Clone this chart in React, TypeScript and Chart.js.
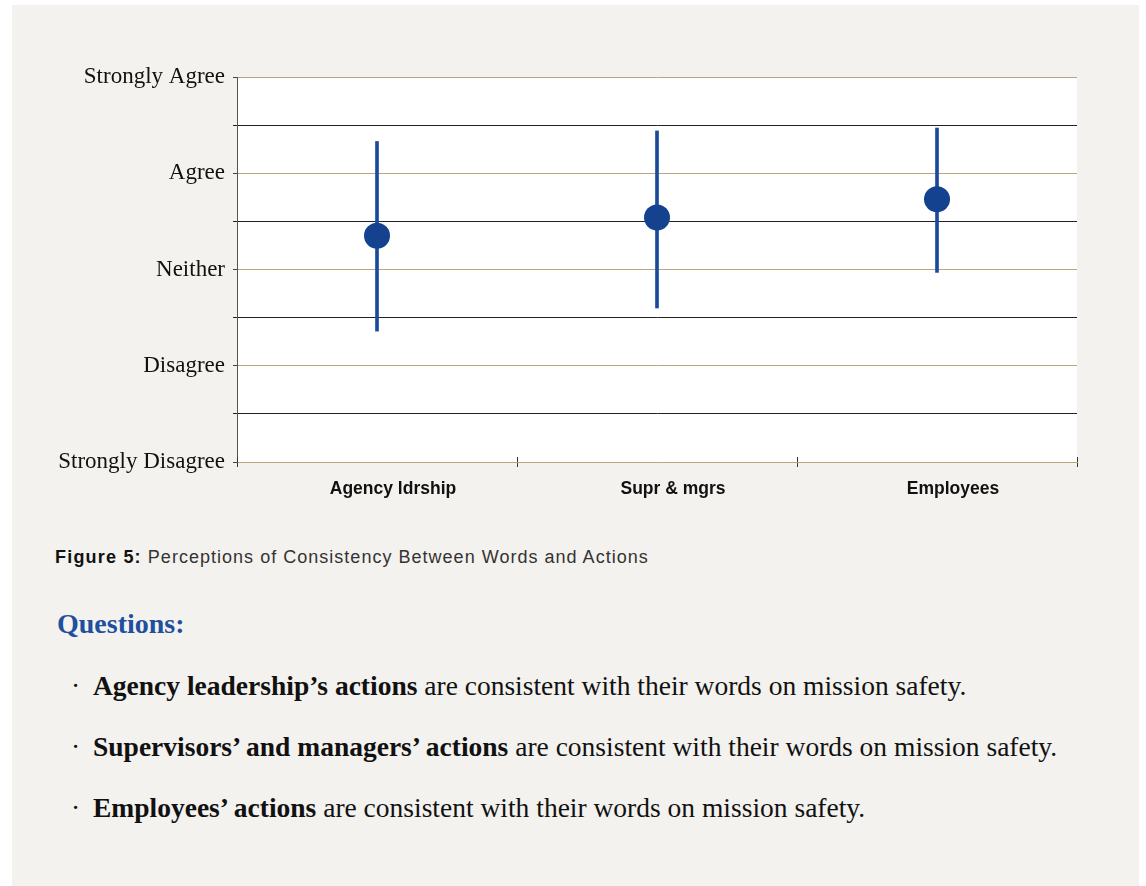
import React, { useEffect, useRef } from "react";
import { Chart, registerables } from "chart.js";

Chart.register(...registerables);

const categories = ["Agency ldrship", "Supr & mgrs", "Employees"];
const meanValues = [3.35, 3.54, 3.73];
const lowValues = [2.36, 2.6, 2.97];
const highValues = [4.33, 4.44, 4.47];
const scaleLabels: Record<number, string> = {
  1: "Strongly Disagree",
  2: "Disagree",
  3: "Neither",
  4: "Agree",
  5: "Strongly Agree",
};
const questions = [
  { bold: "Agency leadership’s actions", rest: " are consistent with their words on mission safety." },
  { bold: "Supervisors’ and managers’ actions", rest: " are consistent with their words on mission safety." },
  { bold: "Employees’ actions", rest: " are consistent with their words on mission safety." },
];

const BLUE = "#14428f";
const TAN = "#bda47c";

const whiteArea = {
  id: "whiteArea",
  beforeDraw(chart: any) {
    const { ctx, chartArea } = chart;
    ctx.save();
    ctx.fillStyle = "#ffffff";
    ctx.fillRect(chartArea.left, chartArea.top, chartArea.right - chartArea.left, chartArea.bottom - chartArea.top);
    ctx.restore();
  },
  afterDraw(chart: any) {
    const { ctx, chartArea } = chart;
    const xs = chart.scales.x;
    const n = categories.length;
    ctx.save();
    ctx.strokeStyle = "#333";
    ctx.lineWidth = 1;
    for (let i = 0; i <= n; i++) {
      let x: number;
      if (i === 0) x = chartArea.left;
      else if (i === n) x = chartArea.right;
      else x = (xs.getPixelForValue(i - 1) + xs.getPixelForValue(i)) / 2;
      x = Math.round(x) + 0.5;
      ctx.beginPath();
      ctx.moveTo(x, chartArea.bottom - 5);
      ctx.lineTo(x, chartArea.bottom);
      ctx.stroke();
    }
    ctx.restore();
  },
};

function ChartBox() {
  const ref = useRef<HTMLCanvasElement | null>(null);
  useEffect(() => {
    if (!ref.current) return;
    const chart = new Chart(ref.current, {
      type: "bar",
      data: {
        labels: categories,
        datasets: [
          {
            type: "line",
            data: meanValues,
            showLine: false,
            pointRadius: 13,
            pointHoverRadius: 13,
            pointBackgroundColor: BLUE,
            pointBorderColor: BLUE,
            pointBorderWidth: 0,
            order: 0,
          } as any,
          {
            type: "bar",
            data: lowValues.map((l, i) => [l, highValues[i]]),
            backgroundColor: "#1a4b9b",
            borderWidth: 0,
            barThickness: 3,
            order: 1,
          } as any,
        ],
      },
      options: {
        animation: false,
        responsive: false,
        maintainAspectRatio: false,
        layout: { padding: { left: 0, top: 72, right: 62, bottom: 0 } },
        plugins: { legend: { display: false }, tooltip: { enabled: false } },
        scales: {
          x: {
            offset: true,
            afterFit: (s: any) => {
              s.height = 63;
            },
            grid: {
              offset: true,
              drawOnChartArea: false,
              tickLength: 5,
              color: "#333",
            },
            border: { color: TAN, width: 1 },
            ticks: {
              color: "#111",
              padding: 12,
              labelOffset: 16,
              font: { family: "Liberation Sans", size: 17.5, weight: "bold" },
            },
          },
          y: {
            min: 1,
            max: 5,
            afterFit: (s: any) => {
              s.width = 225;
            },
            grid: {
              color: (c: any) => (Number.isInteger(c.tick?.value) ? TAN : "#222"),
              tickColor: (c: any) => (Number.isInteger(c.tick?.value) ? "#444" : "#222"),
              tickLength: 4,
              lineWidth: 1,
            },
            border: { color: "#555", width: 1 },
            ticks: {
              stepSize: 0.5,
              autoSkip: false,
              color: "#111",
              padding: 8,
              font: { family: "Liberation Serif", size: 23 },
              callback: (v: any) => (Number.isInteger(v) ? scaleLabels[v] : ""),
            },
          },
        },
      },
      plugins: [whiteArea],
    });
    return () => chart.destroy();
  }, []);
  return (
    <canvas
      ref={ref}
      width={1127}
      height={520}
      style={{ position: "absolute", left: 0, top: 0, width: 1127, height: 520 }}
    />
  );
}

export default function App() {
  const serif = "'Liberation Serif', serif";
  return (
    <div
      style={{
        position: "absolute",
        left: 12,
        top: 5,
        width: 1127,
        height: 881,
        background: "#f3f2ee",
      }}
    >
      <ChartBox />
      <div
        style={{
          position: "absolute",
          left: 43,
          top: 543,
          fontFamily: "'Liberation Sans', sans-serif",
          fontSize: 18,
          lineHeight: "18px",
          letterSpacing: "1.02px",
          whiteSpace: "nowrap",
          color: "#333",
        }}
      >
        <span style={{ fontWeight: "bold", color: "#111", letterSpacing: "1.2px" }}>Figure 5:</span>{" "}
        <span>Perceptions of Consistency Between Words and Actions</span>
      </div>
      <div
        style={{
          position: "absolute",
          left: 45,
          top: 605,
          fontFamily: serif,
          fontSize: 28,
          lineHeight: "28px",
          fontWeight: "bold",
          color: "#1f4f9e",
          whiteSpace: "nowrap",
        }}
      >
        Questions:
      </div>
      {questions.map((q, i) => (
        <div key={i}>
          <div
            style={{
              position: "absolute",
              left: 59,
              top: 667 + i * 61,
              fontFamily: serif,
              fontSize: 27.5,
              lineHeight: "27.5px",
              color: "#111",
            }}
          >
            ·
          </div>
          <div
            style={{
              position: "absolute",
              left: 81,
              top: 667 + i * 61,
              fontFamily: serif,
              fontSize: 27.5,
              lineHeight: "27.5px",
              color: "#111",
              whiteSpace: "nowrap",
            }}
          >
            <b>{q.bold}</b>
            {q.rest}
          </div>
        </div>
      ))}
    </div>
  );
}
